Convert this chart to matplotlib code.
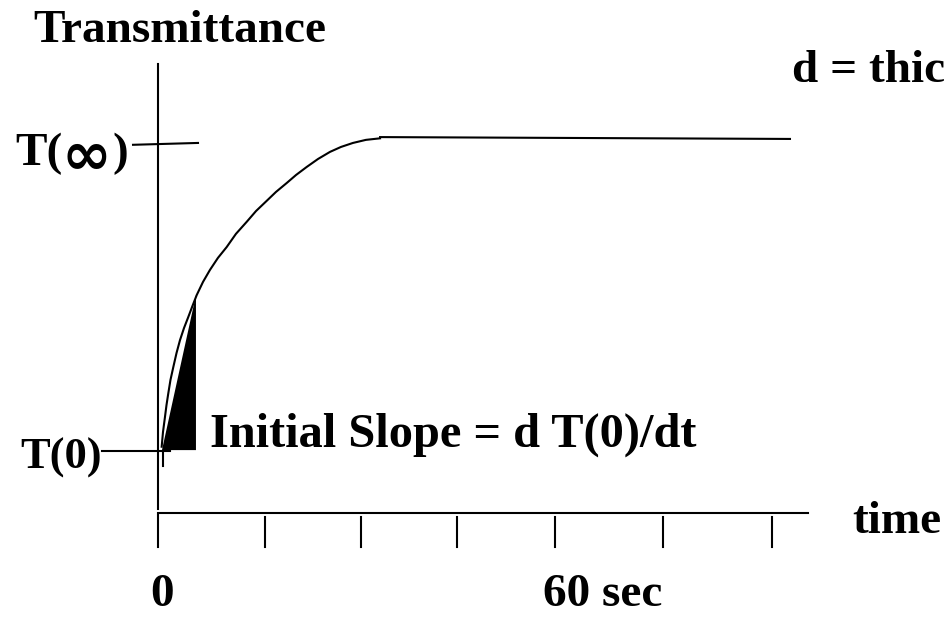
#!/usr/bin/env python3
"""
Sketch of a transmittance rise curve with its initial slope.
Time axis in seconds, transmittance scaled so that T(0) = 0 and T(inf) = 1.
"""

import matplotlib.pyplot as plt

# Curve: time (s), relative transmittance
curve_t = [0.36, 0.49, 0.68, 0.83, 1.01, 1.22, 1.50, 1.81, 2.15, 2.54,
           2.96, 3.37, 3.78, 4.40, 5.08, 5.86, 6.71, 7.62, 8.67, 9.58,
           10.62, 11.53, 12.58, 13.49, 14.53, 15.64, 16.81, 17.88, 19.05,
           20.32, 21.70]
curve_T = [0.014, 0.062, 0.110, 0.149, 0.188, 0.231, 0.273, 0.318, 0.360, 0.399,
           0.435, 0.471, 0.506, 0.549, 0.588, 0.627, 0.662, 0.705, 0.744, 0.779,
           0.812, 0.841, 0.870, 0.896, 0.922, 0.948, 0.971, 0.987, 1.000,
           1.010, 1.015]

# Flat part after saturation
plateau_t = [21.70, 61.76]
plateau_T = [1.019, 1.013]

# Initial slope triangle corners
slope_t = [0.39, 3.71, 3.71]
slope_T = [0.003, 0.506, 0.003]

# Hand-placed tick positions on the time axis (s)
tick_t = [0.0, 10.46, 19.84, 29.22, 38.80, 49.35, 60.0]

T_ZERO = 0.0
T_INF = 1.0


def main():
    fig = plt.figure(figsize=(9.45, 6.18), dpi=100)
    ax = fig.add_axes([0, 0, 1, 1])
    ax.set_xlim(-15.44, 76.91)
    ax.set_ylim(-0.542, 1.464)
    ax.axis("off")

    lw = 1.5
    font = dict(family="Liberation Serif", fontweight="bold", fontsize=34,
                color="black", va="baseline", ha="left")

    # axes drawn by hand
    ax.plot([-0.04, -0.04], [-0.188, 1.256], color="black", lw=lw)
    ax.plot([0.0, 63.5], [-0.201, -0.201], color="black", lw=lw)
    for i, t in enumerate(tick_t):
        top = -0.208 if i == 0 else -0.214
        ax.plot([t, t], [top, -0.312], color="black", lw=lw)

    # level markers for T(0) and T(inf)
    ax.plot([-5.47, 1.17], [T_ZERO, T_ZERO], color="black", lw=lw)
    ax.plot([-2.44, 3.91], [T_INF - 0.006, T_INF], color="black", lw=lw)

    # slope triangle, curve over it
    ax.fill(slope_t, slope_T, color="black", lw=0)
    ax.plot([0.49, 0.49], [-0.003, -0.049], color="black", lw=lw)
    ax.plot(curve_t, curve_T, color="black", lw=lw, solid_joinstyle="round")
    ax.plot(plateau_t, plateau_T, color="black", lw=lw)

    ax.text(-12.21, 1.328, "Transmittance", **font)

    # T(inf): the infinity sign comes from a heavier sans font
    ax.text(-13.97, 0.929, "T(", **font)
    ax.text(-9.38, 0.900, "\u221e", family="DejaVu Sans", fontweight="bold",
            fontsize=43, va="baseline", ha="left")
    ax.text(-4.45, 0.929, ")", **font)

    ax.text(-13.49, -0.058, "T(0)", **dict(font, fontsize=32))
    ax.text(5.08, 0.013, "Initial Slope = d T(0)/dt", **dict(font, fontsize=34.8))
    ax.text(-0.78, -0.503, "0", **font)
    ax.text(37.62, -0.503, "60 sec", **font)
    ax.text(67.82, -0.266, "time", **font)
    ax.text(61.95, 1.198, "d = thic", **font)

    fig.savefig("out.png", dpi=100)
    plt.close(fig)


if __name__ == "__main__":
    main()
